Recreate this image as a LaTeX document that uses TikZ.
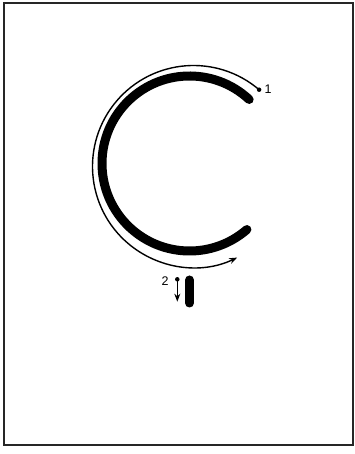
\documentclass[tikz,border=0pt]{standalone}
\usepackage{fontspec}
\setmainfont{Liberation Sans}
\usetikzlibrary{arrows.meta,calc}
\begin{document}
\begin{tikzpicture}[x=1pt,y=1pt,
  thickstroke/.style={line width=9pt,line cap=round},
  thinstroke/.style={line width=1.4pt},
  tip/.style={-{Stealth[length=8pt,width=6pt]}},
  lbl/.style={font=\fontsize{12.5}{12.5}\selectfont,inner sep=0pt},
  dotmark/.style={circle,fill=black,inner sep=0pt,minimum size=4.5pt}]
\useasboundingbox (0,0) rectangle (355,454);
\draw[line width=2pt,black!85] (3.5,451) rectangle (353.3,9);
% main stroke C
\coordinate (c1) at (189.5,290.5);
\draw[thickstroke] (c1) ++(47:87.5) arc[start angle=47,end angle=311,radius=87.5];
% direction arc
\coordinate (c2) at (193.5,287.5);
\node[dotmark] (d1) at ($(c2)+(49.5:101)$) {};
\draw[thinstroke,tip] (c2) ++(49.5:101) arc[start angle=49.5,end angle=295.6,radius=101];
\node[lbl] (l1) at (268,365) {1};
% second stroke
\node[dotmark] (d2) at (177.3,174.7) {};
\coordinate (e2) at (177.3,152.3);
\draw[thinstroke,tip] (d2.center) -- (e2);
\node[lbl] (l2) at (165,173) {2};
\coordinate (b1) at (189.5,174);
\coordinate (b2) at (189.5,151);
\draw[thickstroke] (b1) -- (b2);
\end{tikzpicture}
\end{document}
